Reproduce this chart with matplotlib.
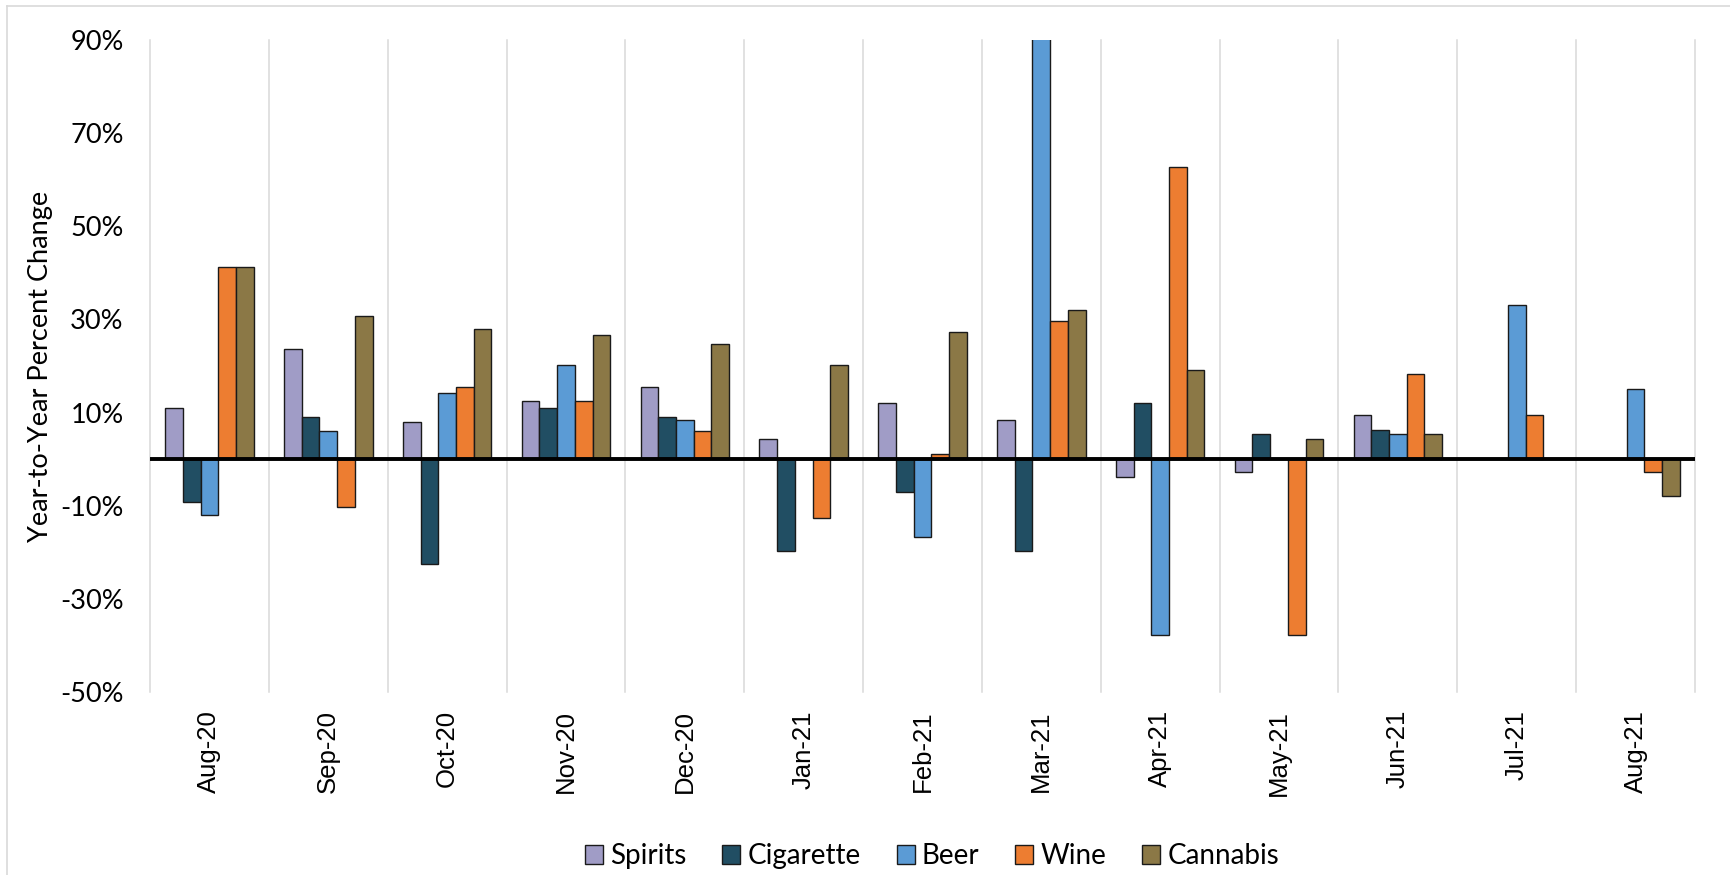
import numpy as np
import matplotlib
matplotlib.use("Agg")
import matplotlib.pyplot as plt
from matplotlib.lines import Line2D

# data (percent change, NaN = no bar)
months = ['Aug-20', 'Sep-20', 'Oct-20', 'Nov-20', 'Dec-20', 'Jan-21', 'Feb-21',
          'Mar-21', 'Apr-21', 'May-21', 'Jun-21', 'Jul-21', 'Aug-21']
series = ['Spirits', 'Cigarette', 'Beer', 'Wine', 'Cannabis']
spirits = [11.0, 23.6, 8.0, 12.5, 15.5, 4.4, 12.1, 8.4, -3.9, -2.8, 9.4, np.nan, np.nan]
cigarette = [-9.1, 9.0, -22.6, 11.0, 9.0, -19.8, -7.0, -19.8, 12.1, 5.3, 6.2, np.nan, np.nan]
beer = [-12.0, 6.0, 14.2, 20.2, 8.4, np.nan, -16.8, 130.0, -37.7, np.nan, 5.3, 33.1, 15.1]
wine = [41.2, -10.3, 15.5, 12.5, 6.0, -12.6, 1.2, 29.7, 62.7, -37.7, 18.2, 9.4, -2.8]
cannabis = [41.2, 30.7, 28.0, 26.7, 24.7, 20.2, 27.3, 32.1, 19.1, 4.3, 5.3, np.nan, -7.9]
colors = ['#A09CC6', '#214E63', '#5B9BD5', '#ED7D31', '#8B7846']

values = [spirits, cigarette, beer, wine, cannabis]

fig = plt.figure(figsize=(17.3, 8.75), dpi=100)
ax = fig.add_axes([150/1730, 1 - 692/875, 1545/1730, 652/875])

x = np.arange(len(months))
w = 0.149
for i, (name, vals, c) in enumerate(zip(series, values, colors)):
    ax.bar(x + (i - 2) * w, vals, width=w, color=c, edgecolor='#1a1a1a',
           linewidth=1.0, label=name, zorder=3)

# vertical separators between months
for b in np.arange(-0.5, len(months), 1.0):
    ax.axvline(b, color='#D9D9D9', lw=1.1, zorder=1, clip_on=False)
ax.axhline(0, color='black', lw=2.8, zorder=4)

ax.set_xlim(-0.5, len(months) - 0.5)
ax.set_ylim(-50, 90)
ax.set_yticks(np.arange(-50, 91, 20))
ax.set_yticklabels([f'{v}%' for v in range(-50, 91, 20)], fontfamily='Lato', fontsize=19.5)
ax.set_xticks(x)
ax.set_xticklabels(months, rotation=90, fontfamily='Liberation Sans', fontsize=18.5)
ax.tick_params(axis='both', length=0)
ax.tick_params(axis='y', pad=19)
ax.tick_params(axis='x', pad=13)
for s in ax.spines.values():
    s.set_visible(False)

fig.text(41/1730, 1 - 366/875, 'Year-to-Year Percent Change', rotation=90,
         ha='center', va='center', fontfamily='Lato', fontsize=19.5)

leg = fig.legend(loc='center', bbox_to_anchor=(932/1730, 1 - 856/875), ncol=5,
                 frameon=False, prop={'family': 'Lato', 'size': 20},
                 handlelength=0.65, handleheight=0.65, handletextpad=0.25,
                 columnspacing=1.3)

# light outer frame lines (top and left)
fig.add_artist(Line2D([7.3/1730, 1], [1 - 6.3/875, 1 - 6.3/875], color='#D9D9D9', lw=1.2))
fig.add_artist(Line2D([7.3/1730, 7.3/1730], [0, 1 - 6.3/875], color='#D9D9D9', lw=1.2))

fig.savefig('out.png', dpi=100)
